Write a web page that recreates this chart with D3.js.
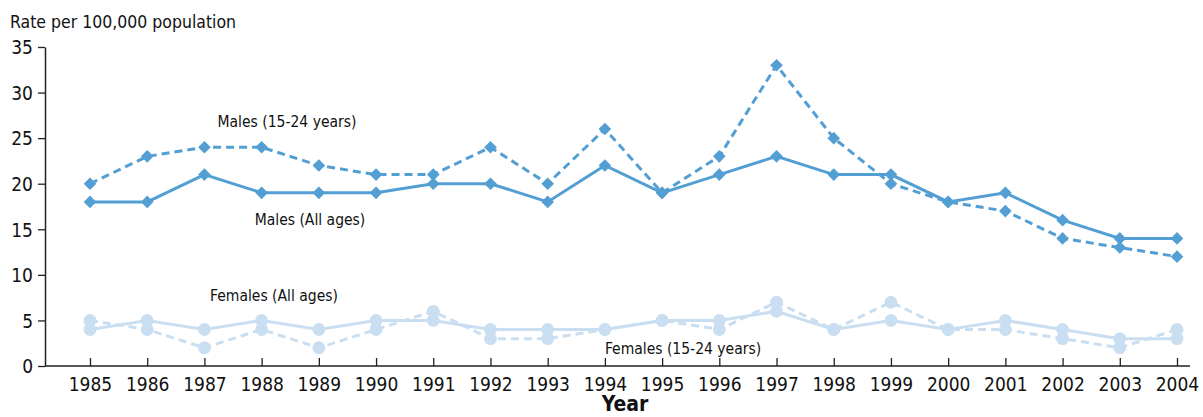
<!DOCTYPE html>
<html><head><meta charset="utf-8">
<script src="https://cdn.jsdelivr.net/npm/d3@7/dist/d3.min.js"></script>
<style>
body{margin:0;background:#fff;}
text{font-family:"Liberation Sans Narrow","DejaVu Sans Condensed","Roboto Condensed",sans-serif;fill:#111;}
</style></head>
<body>
<svg id="c" width="1203" height="417"></svg>
<script>
const years = [1985,1986,1987,1988,1989,1990,1991,1992,1993,1994,1995,1996,1997,1998,1999,2000,2001,2002,2003,2004];
const males1524 = [20,23,24,24,22,21,21,24,20,26,19,23,33,25,20,18,17,14,13,12];
const malesAll = [18,18,21,19,19,19,20,20,18,22,19,21,23,21,21,18,19,16,14,14];
const femalesAll = [4,5,4,5,4,5,5,4,4,4,5,5,6,4,5,4,5,4,3,3];
const females1524 = [5,4,2,4,2,4,6,3,3,4,5,4,7,4,7,4,4,3,2,4];
const yTicks = [0,5,10,15,20,25,30,35];

const svg = d3.select("#c");
const x = d3.scaleLinear().domain([1985,2004]).range([90,1177]);
const y = d3.scaleLinear().domain([0,35]).range([366,47]);
const maleColor = "#539fd4", femaleColor = "#c9dff1";

// axes
const yAxis = svg.append("g").attr("transform","translate(45,0)")
  .call(d3.axisLeft(y).tickValues(yTicks).tickSize(7).tickPadding(5).tickSizeOuter(0));
yAxis.select(".domain").attr("stroke","#222").attr("stroke-width",1.5);
yAxis.selectAll(".tick line").attr("stroke","#222").attr("stroke-width",1.3);
yAxis.selectAll(".tick text").attr("font-size",19).attr("dy","0.36em");

const xAxis = svg.append("g").attr("transform","translate(0,366)")
  .call(d3.axisBottom(x).tickValues(years).tickFormat(d3.format("d")).tickSize(-8).tickPadding(12).tickSizeOuter(0));
xAxis.select(".domain").attr("d","M45,0H1190").attr("stroke","#222").attr("stroke-width",1.5);
xAxis.selectAll(".tick line").attr("stroke","#222").attr("stroke-width",1.3);
xAxis.selectAll(".tick text").attr("font-size",19);

svg.append("text").attr("x",10).attr("y",28).attr("font-size",17.5).text("Rate per 100,000 population");
svg.append("text").attr("x",625).attr("y",411).attr("text-anchor","middle").attr("font-size",21).attr("font-weight","bold").text("Year");

const line = d3.line().x((d,i)=>x(years[i])).y(d=>y(d));
function series(data,color,dashed,marker){
  svg.append("path").datum(data).attr("d",line).attr("fill","none")
    .attr("stroke",color).attr("stroke-width",3)
    .attr("stroke-dasharray",dashed?"8,5":null);
  const sym = marker==="diamond" ? d3.symbol().type(d3.symbolSquare).size(80) : d3.symbol().type(d3.symbolCircle).size(130);
  svg.append("g").selectAll("path").data(data).join("path")
    .attr("d",sym)
    .attr("transform",(d,i)=>`translate(${x(years[i])},${y(d)})`+(marker==="diamond"?" rotate(45)":""))
    .attr("fill",color);
}
series(femalesAll,femaleColor,false,"circle");
series(females1524,femaleColor,true,"circle");
series(malesAll,maleColor,false,"diamond");
series(males1524,maleColor,true,"diamond");

const labels = [
  {t:"Males (15-24 years)", x:287, y:127},
  {t:"Males (All ages)", x:310, y:225},
  {t:"Females (All ages)", x:274, y:301},
  {t:"Females (15-24 years)", x:683, y:354}
];
svg.append("g").selectAll("text").data(labels).join("text")
  .attr("x",d=>d.x).attr("y",d=>d.y).attr("text-anchor","middle").attr("font-size",15.5).text(d=>d.t);
</script>
</body></html>
